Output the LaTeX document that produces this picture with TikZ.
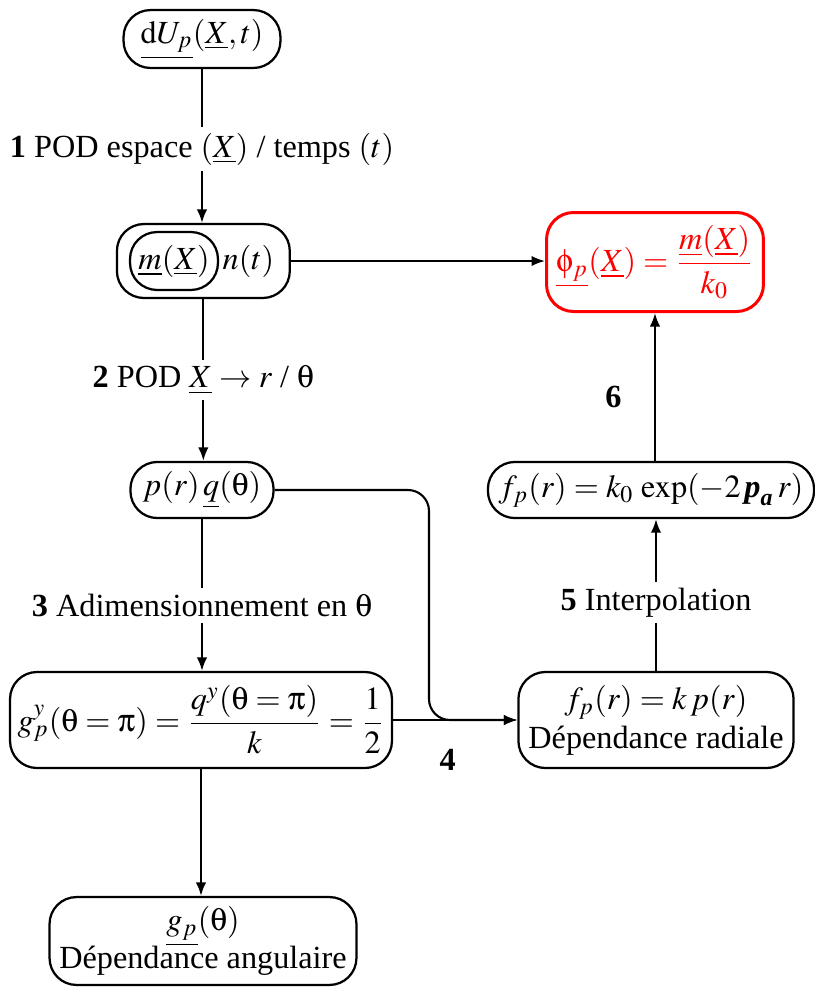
\documentclass[tikz,border=0pt]{standalone}
\usepackage{amsmath}
\usepackage{mathptmx}
\usepackage[Symbol]{upgreek}
\usepackage[no-math]{fontspec}
\setmainfont{Liberation Serif}
\usetikzlibrary{arrows.meta,fit}
\tikzset{
  every node/.style={font=\fontsize{10.75}{12.9}\selectfont},
  box/.style={draw, rounded corners=9pt, line width=0.75pt, inner sep=2pt, align=center},
  lbl/.style={fill=white, inner sep=2pt},
  arr/.style={-{Latex[length=4.5pt,width=3.5pt]}, line width=0.7pt}
}
\begin{document}
\begin{tikzpicture}[x=0.3333pt,y=-0.3333pt]
\useasboundingbox (0,0) rectangle (815,987);
% nodes
\node[box, minimum width=52.3pt, minimum height=19.3pt] (A) at (202,39) {$\underline{\mathrm{d}U_p}(\underline{X},t)$};
\node[box, minimum width=29.3pt, minimum height=19.3pt, inner sep=1pt] (m) at (174,261) {$\underline{m}(\underline{X})$};
\node[anchor=west, inner sep=1pt] (nt) at (m.east) {$n(t)$};
\node[box, fit=(m)(nt), inner xsep=4pt, inner ysep=2.3pt] (B) {};
\node[box, draw=red, text=red, line width=1pt, minimum width=72.3pt, minimum height=33pt] (R) at (655,262) {$\underline{\upphi_p}(\underline{X}) = \dfrac{\underline{m}(\underline{X})}{k_0}$};
\node[box, minimum width=47.7pt, minimum height=18.7pt] (C) at (202,490) {$p(r)\,\underline{q}(\uptheta)$};
\node[box, minimum width=127.3pt, minimum height=32pt] (D) at (201,720) {$g^y_p(\uptheta=\uppi) = \dfrac{q^y(\uptheta=\uppi)}{k} = \dfrac{1}{2}$};
\node[box, minimum width=91.7pt, minimum height=32pt] (E) at (656,720) {$f_p(r)=k\,p(r)$\\Dépendance radiale};
\node[box, minimum width=108.7pt, minimum height=18.7pt] (F) at (651,490) {$f_p(r) = k_0\,\exp(-2\,\textbf{\textit{p}}_{\textbf{\textit{a}}}\,r)$};
\node[box, minimum width=102.3pt, minimum height=29.3pt] (G) at (203,941) {$\underline{g_p}(\uptheta)$\\Dépendance angulaire};
\coordinate (bend) at (429,600);
% connectors
\draw[arr] (A.south) -- node[lbl, pos=0.52] {\textbf{1} POD espace $(\underline{X})$ / temps $(t)$} (A.south |- B.north);
\draw[arr] (B.east) -- (R.west |- B.east);
\draw[arr] (B.south) -- node[lbl] {\textbf{2} POD $\underline{X}\to r$ / $\uptheta$} (B.south |- C.north);
\draw[arr] (C.south) -- node[lbl, pos=0.57] {\textbf{3} Adimensionnement en $\uptheta$} (C.south |- D.north);
\draw[arr] (D.south) -- (D.south |- G.north);
\draw[arr] (D.east) -- node[below=6pt, pos=0.44] {\textbf{4}} (E.west);
\draw[arr, rounded corners=7pt] (C.east) -- (C.east -| bend) -- (bend |- E.west) -- (E.west);
\draw[arr] (E.north) -- node[lbl, pos=0.45] {\textbf{5} Interpolation} (E.north |- F.south);
\draw[arr] (F.north -| R.south) -- node[left=7.5pt, pos=0.43] {\textbf{6}} (R.south);
\end{tikzpicture}
\end{document}
